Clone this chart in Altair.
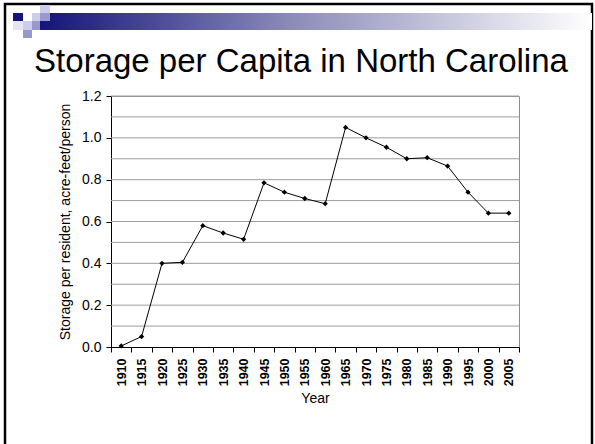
import altair as alt
import pandas as pd

# Reservoir storage per resident in North Carolina, 1910-2005
years = ["1910", "1915", "1920", "1925", "1930", "1935", "1940", "1945", "1950", "1955",
         "1960", "1965", "1970", "1975", "1980", "1985", "1990", "1995", "2000", "2005"]
storage = [0.005, 0.05, 0.40, 0.405, 0.58, 0.545, 0.515, 0.785, 0.74, 0.71,
           0.685, 1.05, 1.0, 0.955, 0.90, 0.905, 0.865, 0.74, 0.64, 0.64]
y_ticks = [0.0, 0.2, 0.4, 0.6, 0.8, 1.0, 1.2]
grid_levels = [0.1, 0.2, 0.3, 0.4, 0.5, 0.6, 0.7, 0.8, 0.9, 1.0, 1.1, 1.2]

FONT = "Liberation Sans"
W, H = 408, 251
LEFT, TOP = 111, 96

df = pd.DataFrame({"Year": years, "Storage": storage})
grid_df = pd.DataFrame({"Storage": grid_levels})
one = alt.Data(values=[{}])


def box(x0, y0, x1, y1, **mark):
    """Slide decoration in page pixels, shifted into plot coordinates."""
    return alt.Chart(one).mark_rect(**mark).encode(
        x=alt.value(x0 - LEFT), x2=alt.value(x1 - LEFT),
        y=alt.value(y0 - TOP), y2=alt.value(y1 - TOP),
    )


navy = "#14147a"
mid = "#9999cc"
light = "#ccccec"

banner = box(40, 13, 592, 30, fill=alt.LinearGradient(
    gradient="linear", x1=0, x2=1, y1=0, y2=0,
    stops=[alt.GradientStop(offset=0, color=navy),
           alt.GradientStop(offset=0.45, color="#8a8ab8"),
           alt.GradientStop(offset=1, color="#ffffff")]))

squares = [
    (40, 5, 50, 13, light),
    (13, 13, 23, 21, navy),
    (23, 13, 32, 21, "#ffffff"),
    (32, 13, 40, 21, light),
    (40, 13, 50, 21, mid),
    (13, 21, 23, 30, "#e4e4f2"),
    (23, 21, 32, 30, light),
    (32, 21, 40, 30, mid),
    (23, 30, 32, 38, mid),
]
deco = [banner] + [box(a, b, c, d, fill=col) for a, b, c, d, col in squares]

frame = box(5, 4, 592, 470, fill=None, stroke="black", strokeWidth=2.5, filled=False)

title = alt.Chart(one).mark_text(
    text="Storage per Capita in North Carolina", font=FONT, fontSize=33,
    color="black", align="center", baseline="alphabetic",
).encode(x=alt.value(301 - LEFT), y=alt.value(72 - TOP))

x_enc = alt.X(
    "Year:O", sort=years,
    scale=alt.Scale(paddingInner=0, paddingOuter=0),
    axis=alt.Axis(
        title="Year", tickBand="extent", labelAngle=270, labelFont=FONT,
        labelFontSize=12.5, labelFontWeight="bold", labelColor="black",
        labelPadding=6, tickSize=5, tickColor="black", domainColor="black",
        titleFont=FONT, titleFontSize=14, titleFontWeight="normal",
        titleColor="black", titlePadding=6, grid=False,
    ),
)
y_scale = alt.Scale(domain=[0, 1.2], nice=False)
y_axis = alt.Axis(
    title="Storage per resident, acre-feet/person", values=y_ticks,
    format=".1f", grid=False, labelFont=FONT, labelFontSize=14,
    labelColor="black", labelPadding=5, tickSize=5, tickColor="black",
    domainColor="black", titleFont=FONT, titleFontSize=14,
    titleFontWeight="normal", titleColor="black", titlePadding=9,
)
y_enc = alt.Y("Storage:Q", scale=y_scale, axis=y_axis)

grid = alt.Chart(grid_df).mark_rule(color="#9c9c9c", strokeWidth=1).encode(y=y_enc)

line = alt.Chart(df).mark_line(color="black", strokeWidth=1).encode(x=x_enc, y=y_enc)

points = alt.Chart(df).mark_point(
    shape="diamond", filled=True, color="black", size=28, opacity=1
).encode(x=x_enc, y=y_enc)

chart = alt.layer(
    frame, *deco, title, grid, line, points
).properties(
    width=W, height=H,
    autosize=alt.AutoSizeParams(type="none"),
    padding={"left": LEFT, "top": TOP, "right": 595 - LEFT - W, "bottom": 444 - TOP - H},
    background="white",
).configure_view(stroke="#8c8c8c", strokeWidth=1)

chart.save("out.html", embed_options={"renderer": "svg", "actions": False})
